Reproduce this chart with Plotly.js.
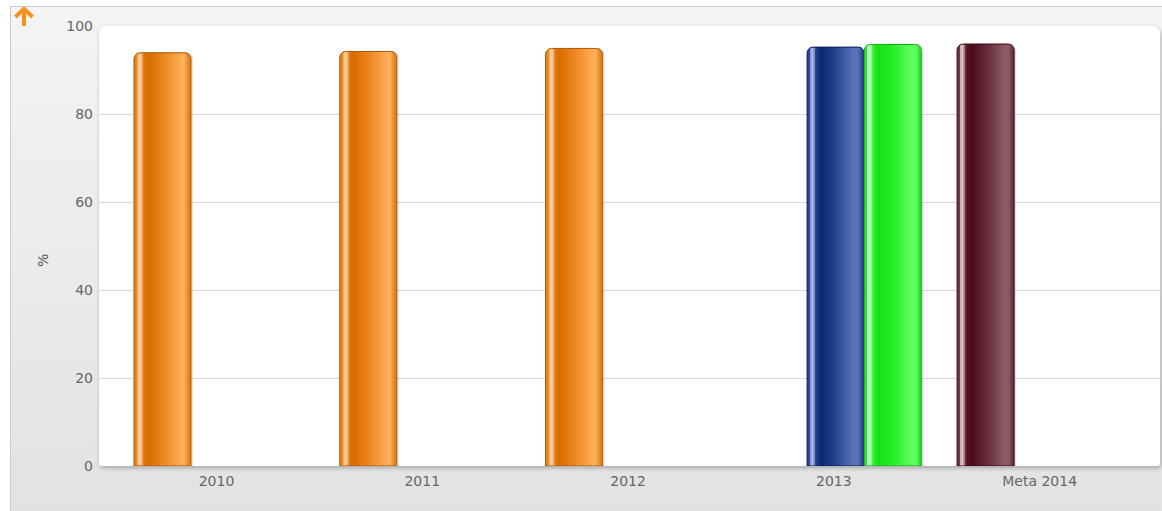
<!DOCTYPE html>
<html><head><meta charset="utf-8">
<script src="https://cdn.plot.ly/plotly-3.0.1.min.js"></script>
<style>
html,body{margin:0;padding:0;background:#fff;width:1162px;height:511px;overflow:hidden;}
#panel{position:absolute;left:10px;top:6px;width:1160px;height:510px;border-left:1px solid #c9c9c9;border-top:1px solid #c9c9c9;background:linear-gradient(#f4f4f4,#e2e2e2);}
#plotbg{position:absolute;left:99px;top:26px;width:1061px;height:440px;background:#fff;border-radius:7px 7px 2px 2px;box-shadow:1px 2px 4px rgba(0,0,0,0.28);}
#chart{position:absolute;left:0;top:0;width:1162px;height:511px;}
#arrow{position:absolute;left:13px;top:7px;}
</style></head><body>
<div id="panel"></div>
<div id="plotbg"></div>
<svg id="arrow" width="22" height="22" viewBox="0 0 22 22"><path d="M2.5 10 L11 1.8 L19.5 10 M11 3 L11 19" fill="none" stroke="#f7901e" stroke-width="4" stroke-linecap="butt" stroke-linejoin="miter"/></svg>
<div id="chart"></div>
<script>
// ---- data ----
const categories = ['2010', '2011', '2012', '2013', 'Meta 2014'];
const seriesA = [93.9, 94.2, 94.9, null, 95.9];
const seriesB = [null, null, null, 95.2, null];
const seriesC = [null, null, null, 95.8, null];
const paletteA = ['orange', 'orange', 'orange', 'orange', 'maroon'];
const paletteB = ['blue', 'blue', 'blue', 'blue', 'blue'];
const paletteC = ['green', 'green', 'green', 'green', 'green'];
const yTicks = [0, 20, 40, 60, 80, 100];

// ---- styling ----
const PALETTES = {
  orange: {base:'#e3821c', line:'#b05a00', stops:[[0,'#e0800f'],[0.06,'#f2a558'],[0.11,'#ffe0bc'],[0.17,'#e0760e'],[0.25,'#d96c00'],[0.55,'#ef8a28'],[0.80,'#ffa94f'],[0.87,'#ffb462'],[0.93,'#f09438'],[1,'#d87408']]},
  blue:   {base:'#2a4494', line:'#0a1c5c', stops:[[0,'#3a54a0'],[0.06,'#8094d0'],[0.10,'#b4c4f0'],[0.16,'#1c3a8a'],[0.25,'#0c2672'],[0.45,'#1e3c88'],[0.75,'#5068ae'],[0.88,'#5c76ba'],[0.95,'#3c56a0'],[1,'#1c3480']]},
  green:  {base:'#30e030', line:'#12b012', stops:[[0,'#50ee50'],[0.05,'#a8ffa8'],[0.10,'#d0ffd0'],[0.16,'#30ee30'],[0.25,'#14e014'],[0.55,'#2cf02c'],[0.80,'#5cff5c'],[0.90,'#62ff62'],[0.96,'#40f040'],[1,'#20d020']]},
  maroon: {base:'#6a3440', line:'#3a0610', stops:[[0,'#8a5662'],[0.05,'#c8a0a8'],[0.10,'#e2c6cc'],[0.16,'#5a1826'],[0.25,'#4a0a18'],[0.55,'#6a3040'],[0.80,'#8a5862'],[0.90,'#8e5e68'],[0.96,'#6e3a46'],[1,'#4e1420']]}
};
function hex2rgb(h){return [parseInt(h.slice(1,3),16),parseInt(h.slice(3,5),16),parseInt(h.slice(5,7),16)];}
function interp(stops,f){
  for(let i=0;i<stops.length-1;i++){
    const [f0,c0]=stops[i],[f1,c1]=stops[i+1];
    if(f>=f0&&f<=f1){
      const t=(f-f0)/(f1-f0),a=hex2rgb(c0),b=hex2rgb(c1);
      return 'rgb('+a.map((v,j)=>Math.round(v+(b[j]-v)*t)).join(',')+')';
    }
  }
  return stops[stops.length-1][1];
}

const PX = 1061/5.156;          // pixels per category unit
const W = 0.277;                 // bar width (category units)
const slots = [
  {y:seriesA, pal:paletteA, off:-0.401},
  {y:seriesB, pal:paletteB, off:-0.130},
  {y:seriesC, pal:paletteC, off:0.148}
];
const traces = [];
const common = {type:'bar', x:categories, hoverinfo:'skip', opacity:1, showlegend:false};
// soft shadows
slots.forEach(s=>{
  traces.push(Object.assign({}, common, {y:s.y, offset:s.off+2/PX, width:W,
    marker:{color:'rgba(0,0,0,0.12)', line:{width:0}, cornerradius:6}}));
});
slots.forEach(s=>{
  // base fill
  traces.push(Object.assign({}, common, {y:s.y, offset:s.off, width:W,
    marker:{color:s.pal.map(p=>PALETTES[p].base), line:{width:0}, cornerradius:6}}));
  // gradient strips
  const f0=0.05, f1=0.95, N=30, step=(f1-f0)/N;
  for(let k=0;k<N;k++){
    const fc=f0+(k+0.5)*step;
    const wk = (k<N-1? step*1.35 : step)*W;
    traces.push(Object.assign({}, common, {y:s.y, offset:s.off+(f0+k*step)*W, width:wk,
      marker:{color:s.pal.map(p=>interp(PALETTES[p].stops,fc)), line:{width:0}, cornerradius:0}}));
  }
  // outline
  traces.push(Object.assign({}, common, {y:s.y, offset:s.off, width:W,
    marker:{color:'rgba(0,0,0,0)', line:{width:1, color:s.pal.map(p=>PALETTES[p].line)}, cornerradius:6}}));
});

const font = {family:'DejaVu Sans, Verdana, sans-serif', size:14, color:'#666'};
const layout = {
  width:1162, height:511,
  margin:{l:99, r:2, t:26, b:45, pad:0},
  paper_bgcolor:'rgba(0,0,0,0)', plot_bgcolor:'rgba(0,0,0,0)',
  barmode:'overlay', showlegend:false,
  xaxis:{type:'category', categoryorder:'array', categoryarray:categories, range:[-0.571, 4.585],
    showgrid:false, zeroline:false, showline:false, ticks:'', tickfont:font, ticklabelstandoff:5, fixedrange:true},
  yaxis:{range:[0,100], tickvals:yTicks, ticktext:yTicks.map(String), showgrid:true, gridcolor:'#d6d6d6', gridwidth:1,
    zeroline:false, showline:false, ticks:'', tickfont:font, ticklabelstandoff:5, fixedrange:true},
  annotations:[{text:'%', xref:'paper', yref:'paper', x:(42.5-99)/1061, y:(466-260.5)/440, textangle:-90,
    showarrow:false, xanchor:'center', yanchor:'middle', font:{family:font.family, size:14, color:'#555'}}]
};
Plotly.newPlot('chart', traces, layout, {staticPlot:true, displayModeBar:false});
</script>
</body></html>
